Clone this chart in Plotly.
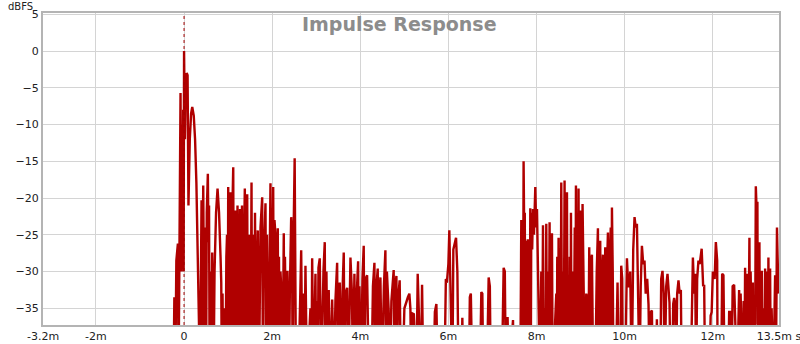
import plotly.graph_objects as go

# ---- data (time in ms, level in dBFS); -45 means below the visible floor ----
direct_t = [-0.24, -0.22, -0.20, -0.175, -0.16, -0.14, -0.125, -0.095, -0.08, -0.065,
            -0.05, -0.035, -0.02, -0.01, 0.0, 0.02, 0.04, 0.06, 0.08, 0.10,
            0.13, 0.16, 0.186, 0.22, 0.25, 0.28, 0.31, 0.33]
direct_db = [-45, -33.5, -45, -28.5, -27, -26.2, -45, -6.2, -5.7, -30,
             -10, -25, -8, -30, 0.0, -12, -4, -3.0, -3.3, -21,
             -12, -8.5, -7.6, -8.8, -12, -18, -28, -45]

early_t = [0.363, 0.397, 0.410, 0.420, 0.435, 0.450, 0.465, 0.488, 0.500, 0.515,
           0.540, 0.555, 0.567, 0.580, 0.600, 0.620, 0.639, 0.655, 0.669, 0.692,
           0.726, 0.760, 0.794, 0.828, 0.844, 0.858, 0.873, 0.890, 0.918, 0.941,
           0.960, 0.975, 0.990, 1.002, 1.017, 1.032, 1.054, 1.066, 1.077, 1.095,
           1.116, 1.130, 1.145, 1.168, 1.190, 1.213, 1.230, 1.247, 1.270, 1.293,
           1.315, 1.330, 1.349, 1.379, 1.393, 1.406, 1.433, 1.450, 1.463, 1.485,
           1.508, 1.531, 1.545, 1.560, 1.583, 1.595, 1.610, 1.633, 1.655, 1.673,
           1.701, 1.735, 1.773, 1.790, 1.803, 1.825, 1.848, 1.865, 1.882, 1.916,
           1.940, 1.961, 1.978, 1.995, 2.023, 2.038, 2.052, 2.075, 2.090, 2.109,
           2.127, 2.140, 2.154, 2.170, 2.188, 2.211, 2.234, 2.263, 2.277, 2.290,
           2.324, 2.347, 2.381, 2.400, 2.431, 2.449, 2.465, 2.483, 2.510, 2.540,
           2.596]
early_db = [-45, -20.3, -45, -32, -18.3, -26, -45, -24, -45, -22,
            -16.7, -26, -21, -45, -30, -45, -27.4, -34, -45, -30,
            -22, -18.7, -22, -28, -31.5, -45, -33, -45, -35, -45,
            -28, -25, -45, -18.5, -45, -26, -19.2, -45, -30, -22,
            -15.8, -45, -32, -21.7, -45, -21, -45, -33, -21.5, -45,
            -21, -45, -31, -18.7, -45, -30, -19.5, -45, -35, -25,
            -45, -17.9, -45, -25, -28, -45, -22, -45, -30, -24.4,
            -45, -24, -19.9, -45, -30, -26, -20.7, -45, -25, -45,
            -26, -18, -45, -29, -18.5, -45, -23, -25, -31, -45,
            -24.1, -45, -28, -45, -30, -33, -45, -24.8, -45, -28,
            -45, -29.9, -45, -33, -22.6, -25, -45, -26, -14.6, -45,
            -45]

mid_t = [2.658, 2.687, 2.710, 2.730, 2.755, 2.789, 2.868, 2.890, 2.907, 2.937,
         2.982, 3.000, 3.016, 3.035, 3.050, 3.079, 3.118, 3.163, 3.193, 3.210,
         3.231, 3.255, 3.283, 3.311, 3.361, 3.401, 3.435, 3.474, 3.490, 3.503,
         3.533, 3.560, 3.594, 3.624, 3.645, 3.662, 3.701, 3.730, 3.776, 3.810,
         3.832, 3.866, 3.890, 3.912, 3.950, 3.965, 3.980, 4.014, 4.048, 4.077,
         4.095, 4.116, 4.154, 4.195, 4.252, 4.286, 4.320, 4.337, 4.354, 4.395,
         4.410, 4.422, 4.456, 4.490, 4.535, 4.569, 4.585, 4.603, 4.644, 4.671,
         4.705, 4.757, 4.775, 4.796, 4.819, 4.835, 4.853, 4.893, 4.921, 4.955,
         5.000, 5.045, 5.079, 5.113, 5.136, 5.159, 5.181, 5.215, 5.238, 5.272,
         5.302, 5.329, 5.374, 5.401, 5.431, 5.658, 5.692, 5.726, 5.760, 5.907,
         5.941, 5.964, 5.998, 6.020, 6.054, 6.066, 6.088, 6.111, 6.134, 6.172,
         6.202, 6.231, 6.293, 6.315, 6.338, 6.463, 6.485, 6.508, 6.542, 6.712,
         6.746, 6.769, 6.791, 6.871, 6.912, 6.939, 6.961, 7.211, 7.252, 7.279,
         7.302, 7.342, 7.370, 7.465, 7.483]
mid_db = [-27.1, -45, -33, -45, -29.2, -45, -35, -45, -28.2, -45,
          -30.3, -45, -34, -45, -29.5, -28.2, -45, -30, -26, -45,
          -30, -45, -32.5, -45, -33.8, -45, -34, -28.8, -45, -33,
          -31.5, -45, -33, -27.4, -45, -33, -32.2, -45, -28.1, -33,
          -45, -30.3, -45, -34, -28.6, -45, -32, -45, -31, -26.5,
          -45, -31, -30.5, -45, -45, -32, -28.8, -45, -33, -29.6,
          -45, -34, -30.8, -45, -32, -27.1, -45, -30, -35.3, -45,
          -34, -29.8, -45, -32, -30.6, -45, -34, -31.2, -45, -45,
          -35, -34, -33.5, -33, -35, -45, -35.7, -35.8, -45, -45,
          -30.3, -45, -45, -31.8, -45, -45, -35.5, -34.4, -45, -45,
          -31, -31.5, -29, -24.4, -31, -34, -45, -27, -26.5, -25.4,
          -30, -45, -45, -36.3, -45, -45, -33.5, -33, -45, -45,
          -32.8, -33, -45, -45, -30.8, -32, -45, -45, -29.5, -30,
          -45, -36.2, -45, -36.6, -45]

late_t = [7.630, 7.653, 7.665, 7.676, 7.690, 7.705, 7.718, 7.732, 7.745, 7.778,
          7.790, 7.800, 7.812, 7.823, 7.846, 7.857, 7.868, 7.880, 7.900, 7.918,
          7.940, 7.971, 7.990, 8.009, 8.027, 8.050, 8.073, 8.107, 8.125, 8.145,
          8.160, 8.175, 8.200, 8.220, 8.237, 8.254, 8.275, 8.295, 8.310, 8.322,
          8.349, 8.365, 8.424, 8.447, 8.458, 8.469, 8.485, 8.499, 8.512, 8.526,
          8.545, 8.560, 8.578, 8.594, 8.615, 8.635, 8.648, 8.662, 8.675, 8.689,
          8.705, 8.726, 8.740, 8.753, 8.768, 8.780, 8.795, 8.810, 8.839, 8.866,
          8.880, 8.893, 8.908, 8.923, 8.938, 8.952, 8.966, 8.980, 9.002, 9.014,
          9.025, 9.043, 9.070, 9.093, 9.127, 9.143, 9.172, 9.195, 9.210, 9.229,
          9.256, 9.286, 9.331, 9.365, 9.392, 9.408, 9.422, 9.444, 9.460, 9.478,
          9.506, 9.520, 9.535, 9.558, 9.575, 9.592, 9.619, 9.635, 9.649, 9.683,
          9.697, 9.710, 9.728, 9.746, 9.796, 9.837, 9.864, 9.898, 9.921, 9.943,
          9.959, 10.011, 10.050, 10.079, 10.102, 10.125, 10.159, 10.193, 10.223, 10.249,
          10.277, 10.306, 10.336, 10.363, 10.390, 10.420, 10.449, 10.476, 10.510, 10.540,
          10.567, 10.594, 10.617, 10.635, 10.703, 10.730, 10.748, 10.805, 10.828, 10.857,
          10.884, 10.907, 10.941, 10.971, 10.993, 11.016, 11.043, 11.077, 11.100, 11.122,
          11.145, 11.168, 11.190, 11.220, 11.247, 11.274, 11.293, 11.497, 11.547, 11.576,
          11.599, 11.621, 11.644, 11.673, 11.701, 11.746, 11.780, 11.803, 11.825, 11.916,
          11.950, 11.973, 12.000, 12.041, 12.068, 12.098, 12.109, 12.188, 12.211, 12.240,
          12.268, 12.347, 12.370, 12.404, 12.426, 12.449, 12.483, 12.551, 12.596, 12.612,
          12.630, 12.653, 12.675, 12.698, 12.715, 12.732, 12.750, 12.766, 12.785, 12.800,
          12.812, 12.830, 12.845, 12.857, 12.880, 12.895, 12.907, 12.922, 12.937, 12.955,
          12.975, 12.995, 13.011, 13.022, 13.034, 13.045, 13.057, 13.070, 13.084, 13.098,
          13.111, 13.125, 13.141, 13.165, 13.186, 13.198, 13.209, 13.220, 13.231, 13.245,
          13.261, 13.275, 13.288, 13.299, 13.315, 13.333, 13.374, 13.413, 13.430, 13.455,
          13.469, 13.492]
late_db = [-45, -23, -45, -28, -45, -15, -24, -22, -45, -25.8,
           -34, -25.6, -45, -26.5, -45, -21.4, -45, -22, -27, -21.5,
           -25, -18.5, -24, -21.5, -26.2, -30, -45, -30, -45, -23.7,
           -45, -35, -45, -23.5, -45, -30, -45, -23.3, -45, -26,
           -24.8, -45, -36, -33, -45, -28, -45, -25.4, -45, -27,
           -45, -17.9, -45, -30, -45, -17.6, -45, -20, -45, -19.2,
           -45, -34, -45, -28, -45, -22, -45, -30, -45, -24,
           -45, -18.3, -45, -22, -45, -18.7, -45, -25, -21.7, -45,
           -30, -20.8, -33, -45, -33, -33.5, -45, -26.7, -45, -29,
           -27.7, -45, -45, -30, -24.1, -45, -28, -25.8, -45, -32,
           -27.7, -45, -33, -26.7, -45, -31, -24.7, -45, -31, -24,
           -45, -21.3, -30, -45, -45, -31.5, -45, -45, -29.2, -31,
           -45, -45, -28.2, -32, -32, -30, -45, -27, -22.6, -24,
           -23.5, -30, -45, -32, -26.5, -29, -28.5, -33, -31, -34.5,
           -45, -35.5, -35.3, -45, -45, -36.5, -45, -45, -31, -29.9,
           -33, -45, -32, -30.3, -33, -34.2, -45, -45, -34.4, -33.6,
           -34.4, -45, -33, -31.2, -33, -32.5, -45, -45, -28.1, -33,
           -30.3, -45, -31, -28.5, -29, -26.9, -32, -31.8, -45, -45,
           -36, -35.5, -30, -31, -26, -28.5, -45, -45, -30.3, -30.5,
           -45, -45, -35.5, -35.5, -45, -32, -31.8, -45, -32.5, -45,
           -33, -36.5, -45, -34, -45, -29.5, -45, -32, -30.3, -45,
           -35, -25.4, -45, -30, -34, -45, -31.5, -45, -35, -45,
           -18.4, -22, -20.5, -45, -27, -45, -26, -45, -33, -45,
           -29.9, -45, -35, -45, -29.6, -45, -33, -45, -30, -45,
           -28.1, -45, -31, -29.6, -45, -35, -45, -30.5, -45, -24,
           -28, -33]

x_tick_vals = [-3.2, -2, 0, 2, 4, 6, 8, 10, 12, 13.5]
x_tick_text = ["-3.2m", "-2m", "0", "2m", "4m", "6m", "8m", "10m", "12m", "13.5m s"]
y_tick_vals = [5, 0, -5, -10, -15, -20, -25, -30, -35]
x_range = [-3.2, 13.5]
y_range = [-37.27, 5.17]

for a, b in [(direct_t, direct_db), (early_t, early_db), (mid_t, mid_db), (late_t, late_db)]:
    assert len(a) == len(b), (len(a), len(b))

t_all = direct_t + early_t + mid_t + late_t
db_all = direct_db + early_db + mid_db + late_db

RED = "#b00000"
GRID = "#d4d4d4"
FRAME = "#b4b4b4"
FONT = "DejaVu Sans"

fig = go.Figure()
fig.add_trace(go.Scatter(x=t_all, y=db_all, mode="lines",
                         line=dict(color=RED, width=2.4), hoverinfo="skip"))

fig.add_shape(type="line", xref="x", yref="paper", x0=0, x1=0, y0=0, y1=1,
              line=dict(color="#a00000", width=1, dash="dot"), layer="above")

fig.add_annotation(text="<b>Impulse Response</b>", xref="paper", yref="paper",
                   x=0.485, y=0.965, xanchor="center", yanchor="middle", showarrow=False,
                   font=dict(family=FONT, size=19, color="#8c8c8c"))
fig.add_annotation(text="dBFS", xref="paper", yref="paper",
                   x=-0.0303, y=1.0218, xanchor="center", yanchor="middle", showarrow=False,
                   borderpad=0, font=dict(family=FONT, size=10, color="#222222"))

axis_common = dict(showgrid=True, gridcolor=GRID, gridwidth=1, showline=True, mirror=True,
                   linecolor=FRAME, linewidth=2, zeroline=False, ticks="",
                   automargin=False, ticklabeloverflow="allow",
                   tickfont=dict(family=FONT, size=11, color="#222222"))
fig.update_xaxes(range=[x_range[0] - 0.001, x_range[1] + 0.001], tickvals=x_tick_vals,
                 ticktext=x_tick_text, **axis_common)
fig.update_yaxes(range=y_range, tickvals=y_tick_vals, **axis_common)

fig.update_layout(width=800, height=344, margin=dict(l=43, r=21, t=13, b=19),
                  plot_bgcolor="white", paper_bgcolor="white", showlegend=False)

fig.write_html("out.html")
